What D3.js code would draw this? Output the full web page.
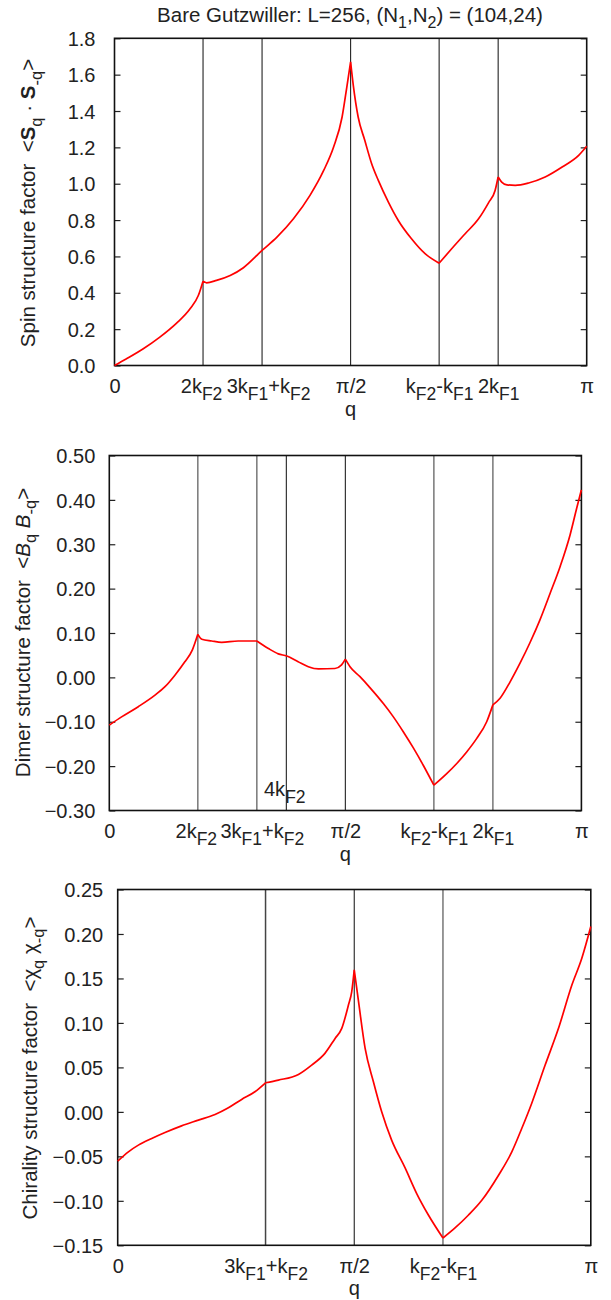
<!DOCTYPE html>
<html>
<head>
<meta charset="utf-8">
<script src="https://cdn.jsdelivr.net/npm/d3@7"></script>
<style>
body { margin: 0; background: #fff; }
text { font-family: "Liberation Sans", Arial, Helvetica, sans-serif; fill: #222; }
</style>
</head>
<body>
<svg id="chart" width="611" height="1300"></svg>
<script>

// q is given in units of pi
var spinQ = [0, 0.0255, 0.061, 0.096, 0.1315, 0.160, 0.1775, 0.1875, 0.195, 0.216,
	0.245, 0.273, 0.3125, 0.344, 0.379, 0.414, 0.443, 0.464, 0.482, 0.492,
	0.5, 0.5057, 0.516, 0.530, 0.5446, 0.5587, 0.580, 0.601, 0.629, 0.6577,
	0.6875, 0.714, 0.7426, 0.771, 0.792, 0.806, 0.8125, 0.820, 0.831, 0.8487,
	0.877, 0.912, 0.948, 0.983, 1.0];
var spinS = [0, 0.037, 0.092, 0.156, 0.233, 0.312, 0.385, 0.464, 0.455, 0.468,
	0.495, 0.538, 0.633, 0.706, 0.807, 0.936, 1.073, 1.202, 1.367, 1.532,
	1.67, 1.541, 1.367, 1.239, 1.110, 1.018, 0.899, 0.798, 0.697, 0.615,
	0.563, 0.642, 0.725, 0.807, 0.895, 0.963, 1.037, 1.009, 0.994, 0.991,
	1.004, 1.037, 1.092, 1.156, 1.206];

var dimerQ = [0, 0.026, 0.0614, 0.0968, 0.118, 0.139, 0.160, 0.176, 0.1875, 0.196,
	0.217, 0.238, 0.273, 0.3125, 0.337, 0.358, 0.376, 0.400, 0.4216, 0.443,
	0.478, 0.492, 0.5, 0.5099, 0.531, 0.552, 0.5805, 0.6017, 0.623, 0.644,
	0.665, 0.6875, 0.7147, 0.736, 0.757, 0.778, 0.7994, 0.8125, 0.8277, 0.849,
	0.870, 0.891, 0.912, 0.9336, 0.955, 0.976, 0.990, 1.0];
var dimerB = [-0.1075, -0.089, -0.066, -0.040, -0.021, 0.005, 0.035, 0.062, 0.097, 0.086,
	0.082, 0.079, 0.082, 0.082, 0.065, 0.053, 0.048, 0.035, 0.024, 0.019,
	0.020, 0.028, 0.041, 0.024, 0.0015, -0.023, -0.059, -0.089, -0.123, -0.159,
	-0.198, -0.243, -0.217, -0.194, -0.168, -0.138, -0.100, -0.062, -0.047, -0.010,
	0.032, 0.078, 0.129, 0.189, 0.250, 0.321, 0.381, 0.4226];

var chiralQ = [0, 0.0226, 0.0437, 0.0719, 0.100, 0.135, 0.1705, 0.2058, 0.234, 0.262,
	0.290, 0.3125, 0.3397, 0.382, 0.410, 0.438, 0.4595, 0.4736, 0.4877, 0.4947,
	0.5, 0.5088, 0.523, 0.5405, 0.558, 0.579, 0.6075, 0.632, 0.657, 0.6875,
	0.713, 0.741, 0.7696, 0.805, 0.833, 0.854, 0.875, 0.9035, 0.9317, 0.960,
	0.981, 1.0];
var chiralX = [-0.0554, -0.0449, -0.0374, -0.0299, -0.0232, -0.0157, -0.0093, -0.0029, 0.0046, 0.0140,
	0.0226, 0.0327, 0.0357, 0.0421, 0.0526, 0.0658, 0.0826, 0.0939, 0.1201, 0.1352,
	0.1596, 0.125, 0.0714, 0.0339, 0.0001, -0.0317, -0.0630, -0.0918, -0.1162, -0.1418,
	-0.1305, -0.1162, -0.0994, -0.0712, -0.0450, -0.0187, 0.0095, 0.0526, 0.0939, 0.1426,
	0.1727, 0.2084];

// cusps where the curve is not smooth
var spinCusps = [0.1875, 0.5, 0.6875, 0.8125];
var dimerCusps = [0.1875, 0.3125, 0.5, 0.6875, 0.8125];
var chiralCusps = [0.3125, 0.5, 0.6875];

// x tick positions / labels and marker lines
var ticksQ1 = [0, 0.1875, 0.3125, 0.5, 0.6875, 0.8125, 1];
var ticksL1 = ["0", "2k_{F2}", "3k_{F1}+k_{F2}", "π/2", "k_{F2}-k_{F1}", "2k_{F1}", "π"];
var linesQ1 = [0.1875, 0.3125, 0.5, 0.6875, 0.8125];

var ticksQ2 = [0, 0.1875, 0.3125, 0.5, 0.6875, 0.8125, 1];
var ticksL2 = ["0", "2k_{F2}", "3k_{F1}+k_{F2}", "π/2", "k_{F2}-k_{F1}", "2k_{F1}", "π"];
var linesQ2 = [0.1875, 0.3125, 0.375, 0.5, 0.6875, 0.8125];

var ticksQ3 = [0, 0.3125, 0.5, 0.6875, 1];
var ticksL3 = ["0", "3k_{F1}+k_{F2}", "π/2", "k_{F2}-k_{F1}", "π"];
var linesQ3 = [0.3125, 0.5, 0.6875];

var yTicks1 = d3.range(0, 1.81, 0.2);
var yTicks2 = d3.range(-0.3, 0.51, 0.1);
var yTicks3 = d3.range(-0.15, 0.251, 0.05);

var titleText = "Bare Gutzwiller: L=256, (N_{1},N_{2}) = (104,24)";


var svg = d3.select("#chart");
var FS = 20, SUB = 17.5, SHIFT = 6.5;

// tiny "enhanced text": _{..} subscript, {b:..} bold, {i:..} italic
function addRich(txt, str, subSize, shift)
{
	var parts = str.split(/(_\{[^}]*\}|\{[bi]:[^}]*\})/);
	var down = false;
	parts.forEach(function(p)
	{
		if (p === "") return;
		var t;
		if (p.charAt(0) == "_")
		{
			t = txt.append("tspan").text(p.slice(2, -1)).attr("font-size", subSize);
			if (!down) t.attr("dy", shift);
			down = true;
			return;
		}
		if (p.charAt(0) == "{")
		{
			t = txt.append("tspan").text(p.slice(3, -1));
			if (p.charAt(1) == "b") t.attr("font-weight", "bold");
			else t.attr("font-style", "italic");
		}
		else
			t = txt.append("tspan").text(p);
		if (down) t.attr("dy", -shift);
		down = false;
	});
}

// cut the series at the cusps so the smoothing keeps them sharp
function splitAt(pts, cusps)
{
	var pieces = [], cur = [];
	pts.forEach(function(d)
	{
		cur.push(d);
		if (cusps.indexOf(d[0]) >= 0)
		{
			pieces.push(cur);
			cur = [d];
		}
	});
	if (cur.length > 1) pieces.push(cur);
	return pieces;
}

function drawPanel(p)
{
	var x = d3.scaleLinear().domain([0, 1]).range([p.left, p.right]);
	var y = d3.scaleLinear().domain(p.yDomain).range([p.bottom, p.top]);

	var g = svg.append("g");

	// marker lines
	g.selectAll("line.mark").data(p.lines).enter().append("line")
		.attr("class", "mark")
		.attr("x1", function(d) { return x(d); })
		.attr("x2", function(d) { return x(d); })
		.attr("y1", p.top)
		.attr("y2", p.bottom)
		.attr("stroke", function(d, i) { return p.lineColors[i]; })
		.attr("stroke-width", function(d, i) { return p.lineColors[i] == "#222" ? 1.1 : 1.5; });

	// left ticks with labels
	var yAxis = d3.axisLeft(y).tickValues(p.yTicks).tickSize(-6).tickPadding(p.pad)
		.tickFormat(d3.format(p.fmt));
	var ga = g.append("g").attr("transform", "translate(" + p.left + ",0)").call(yAxis);
	ga.select(".domain").remove();
	ga.attr("font-family", null);
	ga.selectAll("line").attr("stroke", "#222").attr("stroke-width", 1.2);
	ga.selectAll("text").attr("font-size", FS).attr("fill", "#222").attr("dy", "0.36em");

	// mirrored right ticks
	var gr = g.append("g").attr("transform", "translate(" + p.right + ",0)")
		.call(d3.axisRight(y).tickValues(p.yTicks).tickSize(-6).tickFormat(""));
	gr.select(".domain").remove();
	gr.selectAll("line").attr("stroke", "#222").attr("stroke-width", 1.2);

	// bottom labels
	var xAxis = d3.axisBottom(x).tickValues(p.ticks).tickSize(0).tickPadding(13.6)
		.tickFormat(function() { return ""; });
	var gb = g.append("g").attr("transform", "translate(0," + p.bottom + ")").call(xAxis);
	gb.select(".domain").remove();
	gb.attr("font-family", null);
	gb.selectAll(".tick text").each(function(d, i)
	{
		var t = d3.select(this).attr("font-size", FS).attr("fill", "#222")
			.attr("x", p.labelDx[i] || 0);
		addRich(t, p.labels[i], SUB, SHIFT);
	});

	// frame
	g.append("rect")
		.attr("x", p.left).attr("y", p.top)
		.attr("width", p.right - p.left).attr("height", p.bottom - p.top)
		.attr("fill", "none").attr("stroke", "#111").attr("stroke-width", 1.6);

	// curve
	var pts = p.q.map(function(q, i) { return [q, p.v[i]]; });
	var line = d3.line()
		.x(function(d) { return x(d[0]); })
		.y(function(d) { return y(d[1]); })
		.curve(d3.curveMonotoneX);
	var dstr = splitAt(pts, p.cusps).map(function(seg) { return line(seg); }).join("");
	g.append("path")
		.attr("d", dstr)
		.attr("fill", "none")
		.attr("stroke", "#ff0000")
		.attr("stroke-width", 1.7)
		.attr("stroke-linejoin", "round");

	// axis titles
	g.append("text")
		.attr("x", (p.left + p.right) / 2)
		.attr("y", p.bottom + 50)
		.attr("text-anchor", "middle")
		.attr("font-size", FS)
		.text("q");

	var yl = g.append("text")
		.attr("transform", "translate(" + p.ylabX + "," + p.ylabY + ") rotate(-90)")
		.attr("text-anchor", "middle")
		.attr("font-size", 20.5)
		.style("white-space", "pre");
	addRich(yl, p.ylabel, 16.5, SHIFT);

	if (p.note)
	{
		var nt = g.append("text")
			.attr("x", x(p.note.q)).attr("y", y(p.note.v))
			.attr("font-size", FS);
		addRich(nt, p.note.text, SUB, SHIFT);
	}
}

var title = svg.append("text")
	.attr("x", 350).attr("y", 21.7)
	.attr("text-anchor", "middle")
	.attr("font-size", 20.5);
addRich(title, titleText, 16, 6.5);

drawPanel({
	left: 114.5, right: 586.7, top: 38.3, bottom: 365.5,
	yDomain: [0, 1.8], yTicks: yTicks1, fmt: ".1f", pad: 19,
	ticks: ticksQ1, labels: ticksL1, labelDx: [0, -2, 6, 0, 0, 0, 0], lines: linesQ1,
	lineColors: ["#222", "#222", "#222", "#222", "#222"],
	q: spinQ, v: spinS, cusps: spinCusps,
	ylabel: "Spin structure factor  <{b:S}_{q} · {b:S}_{-q}>", ylabX: 35, ylabY: 203
});

drawPanel({
	left: 109.3, right: 581.4, top: 455.5, bottom: 810.5,
	yDomain: [-0.3, 0.5], yTicks: yTicks2, fmt: ".2f", pad: 14,
	ticks: ticksQ2, labels: ticksL2, labelDx: [0, -2, 5, 0, 0, 0, 0], lines: linesQ2,
	lineColors: ["#777", "#777", "#222", "#222", "#777", "#777"],
	q: dimerQ, v: dimerB, cusps: dimerCusps,
	ylabel: "Dimer structure factor  <{i:B}_{q} {i:B}_{-q}>", ylabX: 29.5, ylabY: 632.5,
	note: { q: 0.3277, v: -0.268, text: "4k_{F2}" }
});

drawPanel({
	left: 117.7, right: 590.8, top: 889.5, bottom: 1245.3,
	yDomain: [-0.15, 0.25], yTicks: yTicks3, fmt: ".2f", pad: 14.5,
	ticks: ticksQ3, labels: ticksL3, labelDx: [0, 0, 0, 0, 0], lines: linesQ3,
	lineColors: ["#444", "#222", "#777"],
	q: chiralQ, v: chiralX, cusps: chiralCusps,
	ylabel: "Chirality structure factor  <χ_{q} χ_{-q}>", ylabX: 37, ylabY: 1068
});

</script>
</body>
</html>
